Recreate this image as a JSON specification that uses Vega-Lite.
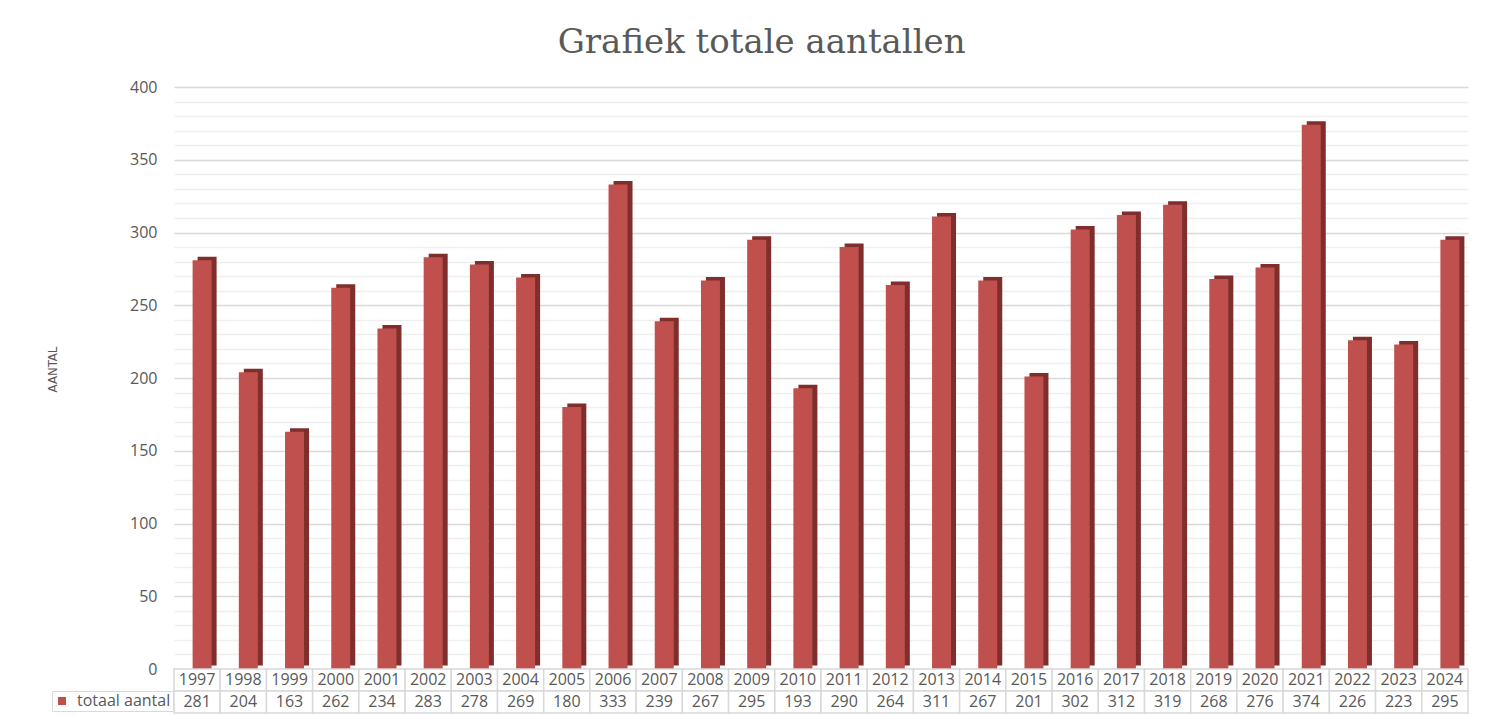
{
  "$schema": "https://vega.github.io/schema/vega-lite/v6.json",
  "background": "white",
  "padding": {"left": 46, "top": 26, "right": 10, "bottom": 2},
  "title": {"text": "Grafiek totale aantallen", "font": "DejaVu Serif", "fontSize": 34, "fontWeight": "normal", "color": "#595959", "anchor": "middle", "offset": 19, "dx": 4},
  "datasets": {
    "d": [
      {"jaar": "1997", "aantal": 281}, {"jaar": "1998", "aantal": 204}, {"jaar": "1999", "aantal": 163},
      {"jaar": "2000", "aantal": 262}, {"jaar": "2001", "aantal": 234}, {"jaar": "2002", "aantal": 283},
      {"jaar": "2003", "aantal": 278}, {"jaar": "2004", "aantal": 269}, {"jaar": "2005", "aantal": 180},
      {"jaar": "2006", "aantal": 333}, {"jaar": "2007", "aantal": 239}, {"jaar": "2008", "aantal": 267},
      {"jaar": "2009", "aantal": 295}, {"jaar": "2010", "aantal": 193}, {"jaar": "2011", "aantal": 290},
      {"jaar": "2012", "aantal": 264}, {"jaar": "2013", "aantal": 311}, {"jaar": "2014", "aantal": 267},
      {"jaar": "2015", "aantal": 201}, {"jaar": "2016", "aantal": 302}, {"jaar": "2017", "aantal": 312},
      {"jaar": "2018", "aantal": 319}, {"jaar": "2019", "aantal": 268}, {"jaar": "2020", "aantal": 276},
      {"jaar": "2021", "aantal": 374}, {"jaar": "2022", "aantal": 226}, {"jaar": "2023", "aantal": 223},
      {"jaar": "2024", "aantal": 295}
    ]
  },
  "bounds": "flush",
  "spacing": 0,
  "vconcat": [
    {
      "width": 1294,
      "height": 582,
      "data": {"name": "d"},
      "encoding": {
        "x": {"field": "jaar", "type": "nominal", "sort": null, "axis": null, "scale": {"paddingInner": 0, "paddingOuter": 0}},
        "y": {
          "field": "aantal", "type": "quantitative",
          "scale": {"domain": [0, 400], "nice": false},
          "axis": {
            "values": [0,10,20,30,40,50,60,70,80,90,100,110,120,130,140,150,160,170,180,190,200,210,220,230,240,250,260,270,280,290,300,310,320,330,340,350,360,370,380,390,400],
            "labelExpr": "datum.value % 50 === 0 ? datum.label : ''",
            "labelOverlap": false,
            "domain": false,
            "ticks": false,
            "labelPadding": 17,
            "labelFont": "Open Sans",
            "labelFontSize": 16,
            "labelColor": "#595959",
            "gridColor": {"condition": {"test": "datum.value % 50 === 0", "value": "#d9d9d9"}, "value": "#efefef"},
            "gridWidth": 1.5,
            "title": "AANTAL",
            "titleFont": "DejaVu Sans Condensed",
            "titleFontSize": 13,
            "titleFontWeight": "normal",
            "titleColor": "#595959",
            "titlePadding": 70,
            "titleY": 282
          }
        }
      },
      "layer": [
        {"mark": {"type": "bar", "width": 19, "xOffset": 10, "yOffset": -3.5, "color": "#7F2E2C"}},
        {
          "mark": {"type": "bar", "width": 19, "xOffset": 5},
          "encoding": {
            "color": {
              "datum": "totaal aantal",
              "scale": {"range": ["#C0504D"]},
              "legend": {
                "orient": "none", "legendX": -122, "legendY": 604, "title": null,
                "symbolType": "square", "symbolSize": 64, "symbolStrokeWidth": 0,
                "strokeColor": "#d9d9d9", "padding": 2, "labelOffset": 7,
                "labelFont": "Open Sans", "labelFontSize": 16, "labelColor": "#595959"
              }
            }
          }
        }
      ]
    },
    {
      "width": 1294,
      "height": 44,
      "data": {"name": "d"},
      "transform": [{"fold": ["jaar", "aantal"], "as": ["rij", "tekst"]}],
      "encoding": {
        "x": {"field": "jaar", "type": "nominal", "sort": null, "axis": null, "scale": {"paddingInner": 0, "paddingOuter": 0}},
        "y": {"field": "rij", "type": "nominal", "sort": ["jaar", "aantal"], "axis": null}
      },
      "layer": [
        {"mark": {"type": "rect", "fill": "white", "stroke": "#d9d9d9", "strokeWidth": 1.5}},
        {"mark": {"type": "text", "font": "Open Sans", "fontSize": 16, "color": "#595959"}, "encoding": {"text": {"field": "tekst"}}}
      ]
    }
  ],
  "resolve": {"scale": {"x": "independent", "y": "independent", "color": "independent"}},
  "config": {"view": {"stroke": null}}
}
